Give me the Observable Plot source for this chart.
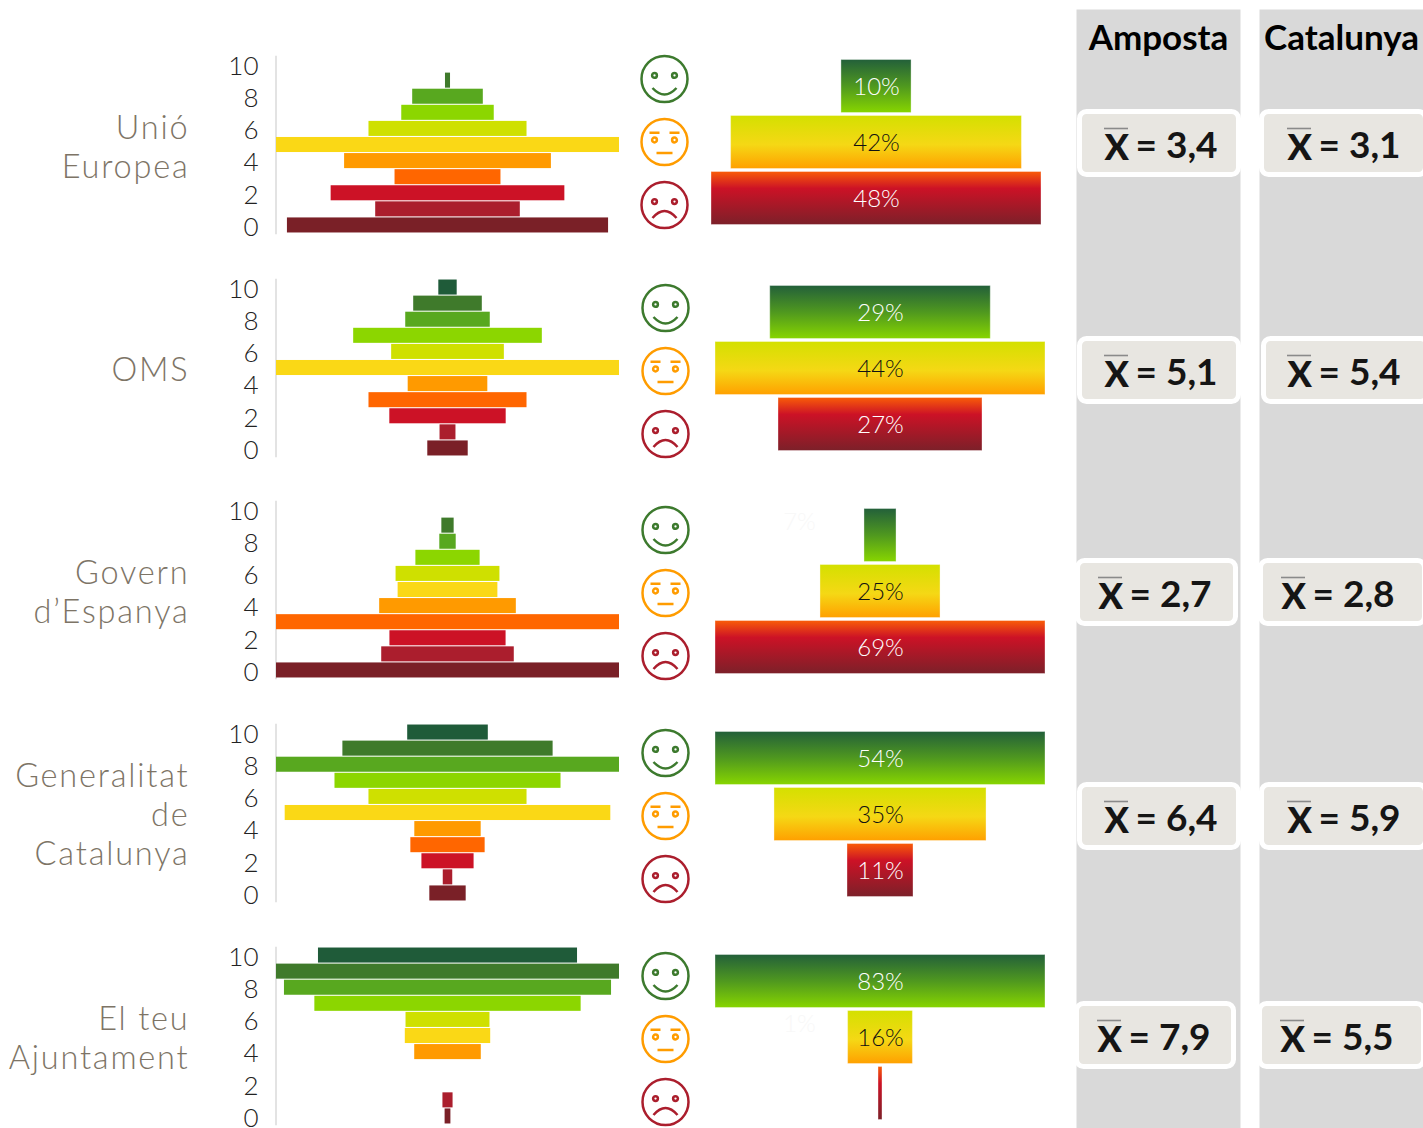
<!DOCTYPE html>
<html lang="ca">
<head>
<meta charset="utf-8">
<style>
html,body{margin:0;padding:0;background:#fff;overflow:hidden}
#root{position:relative;width:1423px;height:1128px;overflow:hidden;font-family:Lato,sans-serif}
.catlabel, .catlabel text{letter-spacing:1.8px}
</style>
<script src="https://cdn.jsdelivr.net/npm/d3@7"></script>
<script src="https://cdn.jsdelivr.net/npm/@observablehq/plot@0.6"></script>
</head>
<body>
<div id="root"></div>
<script>
const institutions = ["Unió\nEuropea","OMS","Govern\nd’Espanya","Generalitat\nde\nCatalunya","El teu\nAjuntament"];
const levels = [10,9,8,7,6,5,4,3,2,1,0];
const shareUE  = [0,0.3,4.2,5.5,9.4,20.4,12.3,6.3,13.9,8.6,19.1];
const shareOMS = [1.5,5.6,6.9,15.4,9.2,28.0,6.5,12.9,9.5,1.3,3.3];
const shareGE  = [0,0.9,1.2,4.7,7.6,7.3,10.0,25.1,8.5,9.7,25.1];
const shareGC  = [5.1,13.3,21.7,14.3,10.0,20.6,4.2,4.7,3.3,0.6,2.3];
const shareAj  = [17.9,23.7,22.6,18.4,5.8,5.9,4.6,0,0,0.7,0.4];
const shares = [shareUE,shareOMS,shareGE,shareGC,shareAj];
const levelColors = ["#1f5b39","#3f7a2b","#58a81f","#8cd600","#cfe000","#fad816","#ff9a00","#ff6600","#cc1226","#ab1e2d","#7a2027"];

const groups = ["bo","mig","dolent"];
const groupUE  = [10.2,42.3,48];
const groupOMS = [29.4,44,27.2];
const groupGE  = [6.7,25.1,69];
const groupGC  = [54,34.7,10.8];
const groupAj  = [83,16.3,1];
const groupValues = [groupUE,groupOMS,groupGE,groupGC,groupAj];
// Labels that are almost invisible in the reference: [group whose value it is, row it sits by]
const faintLabels = [null,null,[0,0],null,[2,1]];

const meanAmposta = [3.4,5.1,2.7,6.4,7.9];
const meanCatalunya = [3.1,5.4,2.8,5.9,5.5];
const columns = ["Amposta","Catalunya"];

/* layout only */
const root = document.getElementById("root");
const FONT = "Lato, sans-serif";
const base = (left, top) => ({style:{position:"absolute",left:left+"px",top:top+"px",background:"transparent",overflow:"visible",fontFamily:FONT,maxWidth:"none"}});
const pyramidTop = [50,273,495,718,941];
const faceTop = [46.5,275.5,497.5,720.5,943.5];
const faceLeft = [634,634.5,634.5,634.5,634.5];
const funnelTop = [57.5,283.5,506.5,729.5,952.5];
const funnelCentre = [876,880,880,880,880];
const boxA = [[1076,108,165],[1076,335,165],[1074,557,164],[1076,781,165],[1073,1000,163]];
const boxC = [[1258,108,170],[1260,335,170],[1257,557,170],[1258,781,170],[1256,1000,170]];
const xA = [28,28,24,28,24];
const xC = [29,27,24,29,24];

const faceColor = ["#3d7a2e","#ff9c00","#ab1e2d"];
const circle = (c,r) => {c.moveTo(r,0);c.arc(0,0,r,0,2*Math.PI);};
const dotAt = (c,x,y,r) => {c.moveTo(x+r,y);c.arc(x,y,r,0,2*Math.PI);};
const faceSymbols = [
  {draw(c,s){const r=Math.sqrt(s/Math.PI),k=r/23;circle(c,r);dotAt(c,-10*k,-3.6*k,2.4*k);dotAt(c,10*k,-3.6*k,2.4*k);c.moveTo(-12*k,9*k);c.quadraticCurveTo(0,22*k,12*k,9*k);}},
  {draw(c,s){const r=Math.sqrt(s/Math.PI),k=r/23;circle(c,r);dotAt(c,-10*k,-2*k,2.4*k);dotAt(c,10*k,-2*k,2.4*k);c.moveTo(-15*k,-9.3*k);c.lineTo(-5*k,-9.3*k);c.moveTo(5*k,-9.3*k);c.lineTo(15*k,-9.3*k);c.moveTo(-8*k,11*k);c.lineTo(8*k,11*k);}},
  {draw(c,s){const r=Math.sqrt(s/Math.PI),k=r/23;circle(c,r);dotAt(c,-10*k,-3.4*k,2.4*k);dotAt(c,10*k,-3.4*k,2.4*k);c.moveTo(-12*k,13*k);c.quadraticCurveTo(0,-1*k,12*k,13*k);}}
];
const overlineSymbol = {draw(c,s){const r=Math.sqrt(s/Math.PI);c.moveTo(-r,0);c.lineTo(r,0);}};

const gradients = [
  [[0,"#23603a"],[.5,"#4f981f"],[1,"#87d500"]],
  [[0,"#d4e000"],[.55,"#f5d815"],[1,"#ffa000"]],
  [[0,"#f95c08"],[.32,"#cc1226"],[1,"#7c2029"]]
];
const gradientDefs = (prefix) => () => {
  const defs = d3.create("svg:defs");
  gradients.forEach((stops,i) => {
    const g = defs.append("linearGradient").attr("id",prefix+i).attr("x1",0).attr("y1",0).attr("x2",0).attr("y2",1);
    stops.forEach(([o,c]) => g.append("stop").attr("offset",o).attr("stop-color",c));
  });
  return defs.node();
};

institutions.forEach((name,p) => {
  /* distribution pyramid */
  const rows = levels.map((l,i) => ({level:l,share:shares[p][i]}));
  const m = d3.max(shares[p])/2;
  root.append(Plot.plot({
    ...base(0,pyramidTop[p]),
    width:620,height:189,marginLeft:276,marginRight:1,marginTop:6,marginBottom:6,
    x:{domain:[-m,m],axis:null},
    y:{type:"band",domain:levels,paddingInner:0.065,paddingOuter:0.0325,round:false,axis:null},
    color:{type:"ordinal",domain:levels,range:levelColors},
    marks:[
      Plot.frame({anchor:"left",stroke:"#dcdcdc",strokeWidth:1.6,dx:-0.5}),
      Plot.axisY({ticks:[10,8,6,4,2,0],tickSize:0,tickPadding:18,fontSize:26,fontWeight:300,dy:2,fill:"#222",label:null,anchor:"left"}),
      Plot.barX(rows.filter(d=>d.share>0),{x1:d=>-d.share/2,x2:d=>d.share/2,y:"level",fill:"level"}),
      Plot.text([name],{frameAnchor:"left",dx:-87,dy:1,textAnchor:"end",fontSize:32.5,fontWeight:300,lineHeight:1.2,fill:"#7d7466",className:"catlabel"})
    ]
  }));

  /* faces */
  root.append(Plot.plot({
    ...base(faceLeft[p],faceTop[p]),
    width:60,height:189,margin:0,
    x:{domain:[0,1],axis:null},
    y:{type:"band",domain:groups,padding:0,round:false,axis:null},
    marks:groups.map((g,i)=>Plot.dot([g],{x:()=>0.5,y:d=>d,r:23,symbol:faceSymbols[i],stroke:faceColor[i],strokeWidth:2.5,fill:"none"}))
  }));

  /* grouped funnel */
  const vals = groupValues[p];
  const fm = d3.max(vals)/2;
  const id = "grad"+p+"-";
  const faint = faintLabels[p];
  const pct = v => Math.round(v)+"%";
  root.append(Plot.plot({
    ...base(funnelCentre[p]-180,funnelTop[p]),
    width:360,height:168,marginLeft:15,marginRight:15,marginTop:0,marginBottom:0,
    x:{domain:[-fm,fm],axis:null},
    y:{type:"band",domain:groups,paddingInner:0.054,paddingOuter:0.027,round:false,axis:null},
    marks:[
      gradientDefs(id),
      ...groups.map((g,i)=>Plot.barX([vals[i]],{x1:d=>-d/2,x2:d=>d/2,y:()=>g,fill:`url(#${id}${i})`,stroke:"#fff",strokeOpacity:.35,strokeWidth:1})),
      ...groups.map((g,i)=>(faint&&i===faint[0])?null:Plot.text([pct(vals[i])],{x:()=>0,y:()=>g,dy:1,fontSize:24,fontWeight:300,fill:i===1?"#111":"#fff"})),
      faint?Plot.text([pct(vals[faint[0]])],{x:()=>0,y:()=>groups[faint[1]],dx:-81,dy:-13,fontSize:24,fontWeight:300,fill:"#f8f8f8"}):null
    ]
  }));
});

/* grey columns with headers */
columns.forEach((name,c) => {
  root.append(Plot.plot({
    ...base(c===0?1076:1259,9),
    width:164,height:1119,margin:0,
    marks:[
      Plot.frame({fill:"#d9d9d9",stroke:"none"}),
      Plot.text([name],{frameAnchor:"top",dy:16,fontSize:35,fontWeight:700,fill:"#000",lineAnchor:"top"})
    ]
  }));
});

/* mean boxes */
const fmt = v => v.toFixed(1).replace(".",",");
[[meanAmposta,boxA,xA],[meanCatalunya,boxC,xC]].forEach(([means,boxes,xs]) => {
  means.forEach((v,i) => {
    const [l,t,w] = boxes[i];
    root.append(Plot.plot({
      ...base(l,t),
      width:w,height:69,margin:3,
      marks:[
        Plot.frame({fill:"#e8e6e1",stroke:"#fff",strokeWidth:5,rx:7}),
        Plot.text(["X"],{frameAnchor:"left",dx:xs[i]-3,dy:5,textAnchor:"start",fontSize:36,fontWeight:900,fill:"#151515"}),
        Plot.dot(["barra"],{frameAnchor:"left",dx:xs[i]+8.5,dy:-14.5,r:12,symbol:overlineSymbol,stroke:"#8a8a8a",strokeWidth:1.6,fill:"none"}),
        Plot.text(["= "+fmt(v)],{frameAnchor:"left",dx:xs[i]+28,dy:3,textAnchor:"start",fontSize:37,fontWeight:700,fill:"#151515"})
      ]
    }));
  });
});
</script>
</body>
</html>
